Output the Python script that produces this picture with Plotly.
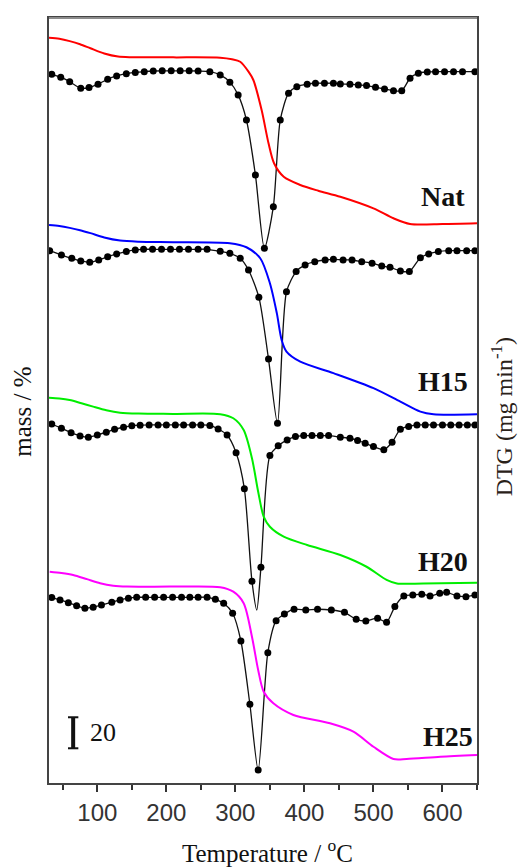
import plotly.graph_objects as go

# ---------------- data (temperature in degC, signals in chart units; 20 units = scale bar) -------------
samples = ["Nat", "H15", "H20", "H25"]
mass_colors = ["#ff0000", "#0000ff", "#00ee00", "#ff00ff"]

# DTG curves: measured points (markers), value relative to final baseline
nat_dtg_T = [34, 47, 60, 76, 88, 101, 115, 128, 142, 155, 168, 181, 194, 207, 220, 233, 246, 263, 278, 292,
             304, 316, 329, 342, 355, 365, 377, 389, 404, 416, 429, 442, 452, 466, 478, 490, 503, 516, 529,
             541, 553, 565, 578, 590, 603, 616, 629, 647]
nat_dtg = [-1.7, -3.6, -6.5, -10.7, -10.3, -8.1, -4.9, -2.8, -1.3, -0.6, 0, 0.4, 0.5, 0.5, 0.5, 0.5, 0.4, 0,
           -2.1, -6.8, -15, -31.2, -66.6, -113.9, -87.1, -31.2, -13.9, -9.7, -8.1, -7.5, -7.5, -7.5, -7.9,
           -8.1, -8.6, -9.0, -10.1, -11.2, -12.3, -12.3, -4.3, -1.0, -0.2, 0, 0, 0, 0, 0]

h15_dtg_T = [31, 48, 63, 76, 89, 102, 115, 128, 142, 155, 167, 180, 193, 206, 219, 232, 246, 259, 278, 292,
             307, 319, 334, 348, 361, 374, 388, 401, 415, 430, 442, 456, 469, 483, 498, 512, 524, 539, 552,
             568, 580, 594, 609, 621, 635, 647]
h15_dtg = [0, -2.8, -4.9, -6.6, -7.5, -6.0, -3.9, -2.1, -0.6, 0.5, 0.9, 0.9, 0.9, 0.9, 0.9, 0.9, 0.9, 0.9,
           -0.4, -1.7, -4.9, -12.5, -30.0, -69.9, -111.4, -26.5, -13.5, -9.2, -7.1, -6.0, -5.6, -6.0, -6.0,
           -7.1, -8.1, -9.9, -10.7, -13.1, -13.5, -4.5, -2.1, -0.6, 0, 0, 0, 0]

h20_dtg_T = [34, 48, 62, 75, 87, 100, 113, 125, 138, 150, 162, 175, 188, 200, 213, 225, 238, 250, 263, 275,
             288, 301, 313, 324, 337, 350, 362, 375, 387, 399, 411, 423, 435, 452, 466, 477, 488, 500, 515,
             527, 539, 551, 563, 575, 587, 600, 612, 624, 636, 647]
h20_dtg = [0.6, -2.1, -5.0, -7.1, -7.9, -6.5, -4.7, -2.8, -1.5, -0.6, -0.2, 0, 0, 0, 0, 0, 0, 0, -0.3, -2.6,
           -6.5, -17.9, -41.1, -100.8, -91.9, -19.8, -13.5, -9.7, -7.5, -6.9, -6.9, -6.9, -6.9, -7.9, -8.6,
           -10.0, -11.8, -14.0, -16.1, -11.2, -2.8, -1.1, 0, 0, 0, 0, 0, 0, 0, 0]

h25_dtg_T = [34, 46, 58, 70, 82, 94, 106, 121, 133, 145, 157, 170, 183, 196, 209, 222, 234, 246, 259, 271,
             283, 296, 308, 321, 333, 347, 359, 371, 385, 402, 419, 439, 458, 475, 489, 506, 519, 531, 544,
             557, 570, 582, 596, 606, 621, 634, 647]
h25_dtg = [-1.7, -3.2, -5.0, -6.9, -8.6, -7.9, -6.5, -4.7, -3.2, -2.1, -1.5, -1.5, -1.5, -1.5, -1.5, -1.5,
           -1.5, -1.5, -1.5, -2.8, -5.4, -11.8, -29.7, -70.5, -112.9, -37.2, -16.6, -12.3, -9.2, -9.7, -9.2,
           -9.7, -11.2, -15.7, -16.8, -15.0, -17.6, -7.5, -0.6, 0, 0.5, -0.6, 1.1, 1.7, -0.6, -1.1, 0]

# extra DTG peak points lying between recorded markers (line only)
peak_T = [[], [], [331], []]
peak_v = [[], [], [-119.4], []]

# TG (mass) curves, relative to final residue level
nat_m_T = [30, 45, 60, 75, 90, 110, 130, 150, 210, 278, 295, 307, 319, 326, 338, 348, 356, 370, 394, 420,
           452, 500, 529, 553, 600, 650]
nat_m = [120.2, 119.5, 118.0, 116.0, 113.4, 110.0, 108.0, 107.6, 107.5, 107.3, 106.3, 104.7, 98.3, 92.9,
         73.5, 52.1, 39.2, 30.5, 25.2, 21.5, 17.6, 10.1, 3.7, 0, 0, 0.5]
h15_m_T = [30, 45, 60, 75, 90, 110, 133, 160, 210, 292, 316, 336, 350, 360, 367, 374, 394, 442, 500, 539,
           568, 587, 650]
h15_m = [122.1, 121.4, 120.2, 118.7, 116.8, 114.0, 112.0, 111.3, 111.0, 110.3, 107.7, 100.6, 84.5, 65.2,
         47.9, 40.4, 33.9, 26.5, 16.8, 8.1, 1.7, 0, 0]
h20_m_T = [30, 45, 60, 77, 94, 113, 133, 160, 210, 278, 297, 312, 324, 333, 341, 350, 370, 404, 452, 490,
           519, 534, 572, 650]
h20_m = [119.9, 119.4, 118.4, 116.3, 114.1, 111.8, 110.2, 109.6, 109.4, 109.2, 106.6, 99.0, 80.8, 59.2,
         43.1, 36.6, 30.2, 24.8, 18.4, 10.8, 2.3, 0, 0, 0.5]
h25_m_T = [31, 48, 65, 85, 104, 123, 143, 210, 278, 297, 312, 324, 333, 341, 355, 384, 437, 471, 500, 529,
           548, 597, 650]
h25_m = [120.8, 120.0, 118.7, 116.0, 113.4, 111.8, 111.2, 111.2, 110.8, 107.9, 100.5, 78.9, 57.4, 43.4,
         35.9, 28.4, 23.0, 17.6, 7.9, 0, 0, 1.5, 2.6]

dtg_T = [nat_dtg_T, h15_dtg_T, h20_dtg_T, h25_dtg_T]
dtg_v = [nat_dtg, h15_dtg, h20_dtg, h25_dtg]
mass_T = [nat_m_T, h15_m_T, h20_m_T, h25_m_T]
mass_v = [nat_m, h15_m, h20_m, h25_m]

x_ticks = [100, 200, 300, 400, 500, 600]
SCALE_BAR = 20

# vertical stacking offsets of each sample (chart units)
dtg_offset = [458.9, 343.4, 231.0, 121.3]
mass_offset = [360.6, 237.9, 128.7, 15.5]
label_dy = [17.7, 21.0, 14.5, 14.4]
label_x = [636, 640, 640, 647]

SERIF = "Liberation Serif, Times New Roman, serif"
SANS = "Liberation Sans, Arial, sans-serif"

fig = go.Figure()

for i in range(4):
    pts = sorted(list(zip(dtg_T[i], dtg_v[i])) + list(zip(peak_T[i], peak_v[i])))
    fig.add_trace(go.Scatter(
        x=[p[0] for p in pts], y=[p[1] + dtg_offset[i] for p in pts],
        mode="lines", line=dict(color="#111111", width=1.3, shape="spline", smoothing=0.7),
        showlegend=False, hoverinfo="skip"))
    fig.add_trace(go.Scatter(
        x=dtg_T[i], y=[v + dtg_offset[i] for v in dtg_v[i]],
        mode="markers", marker=dict(color="#000000", size=7),
        showlegend=False, hoverinfo="skip"))

for i in range(4):
    fig.add_trace(go.Scatter(
        x=mass_T[i], y=[v + mass_offset[i] for v in mass_v[i]],
        mode="lines", line=dict(color=mass_colors[i], width=2, shape="spline", smoothing=0.8),
        showlegend=False, hoverinfo="skip"))

annotations = []
for i, name in enumerate(samples):
    annotations.append(dict(x=label_x[i], y=mass_offset[i] + label_dy[i], xref="x", yref="y",
                            text="<b>%s</b>" % name, showarrow=False, xanchor="right", yanchor="middle",
                            font=dict(family=SERIF, size=28, color="#111111")))

# scale bar
bar_x, bar_y0 = 65, 22.4
shapes = [
    dict(type="line", xref="x", yref="y", x0=bar_x, x1=bar_x, y0=bar_y0, y1=bar_y0 + SCALE_BAR,
         line=dict(color="#111111", width=4)),
    dict(type="line", xref="x", yref="y", x0=bar_x - 7.5, x1=bar_x + 7.5, y0=bar_y0, y1=bar_y0,
         line=dict(color="#111111", width=2)),
    dict(type="line", xref="x", yref="y", x0=bar_x - 7.5, x1=bar_x + 7.5, y0=bar_y0 + SCALE_BAR,
         y1=bar_y0 + SCALE_BAR, line=dict(color="#111111", width=2)),
    dict(type="line", xref="paper", yref="paper", x0=0, x1=1, y0=1, y1=1,
         line=dict(color="#8c8c8c", width=2)),
]
annotations.append(dict(x=87, y=bar_y0 + SCALE_BAR / 2, xref="x", yref="y", text=str(SCALE_BAR),
                        showarrow=False, xanchor="left", yanchor="middle",
                        font=dict(family=SERIF, size=26, color="#111111")))

# axis titles
annotations.append(dict(x=0.5105, y=-0.0885, xref="paper", yref="paper",
                        text="Temperature / <sup>o</sup>C", showarrow=False, xanchor="center",
                        yanchor="middle", font=dict(family=SERIF, size=25, color="#111111")))
annotations.append(dict(x=-0.0607, y=0.4853, xref="paper", yref="paper", text="mass / %",
                        textangle=-90, showarrow=False, xanchor="center", yanchor="middle",
                        font=dict(family=SERIF, size=25, color="#111111")))
annotations.append(dict(x=1.0585, y=0.478, xref="paper", yref="paper",
                        text="DTG (mg min<sup>-1</sup>)", textangle=-90, showarrow=False,
                        xanchor="center", yanchor="middle",
                        font=dict(family=SERIF, size=24, color="#2a2118")))

fig.update_layout(
    width=518, height=867, autosize=False,
    margin=dict(l=49, r=41, t=18, b=84, pad=0),
    paper_bgcolor="white", plot_bgcolor="white",
    annotations=annotations, shapes=shapes,
    xaxis=dict(range=[30, 650], tickvals=x_ticks, ticktext=[str(t) for t in x_ticks],
               ticks="outside", ticklen=7, tickwidth=2, tickcolor="#333333",
               minor=dict(dtick=50, tick0=0, ticks="outside", ticklen=5, tickwidth=2, tickcolor="#333333"),
               showline=True, linecolor="#444444", linewidth=2, mirror=True,
               showgrid=False, zeroline=False,
               tickfont=dict(family=SANS, size=24, color="#333333")),
    yaxis=dict(range=[0, 493.5], showticklabels=False, ticks="", showgrid=False, zeroline=False,
               showline=True, linecolor="#444444", linewidth=2, mirror=True),
)

fig.write_html("out.html")
